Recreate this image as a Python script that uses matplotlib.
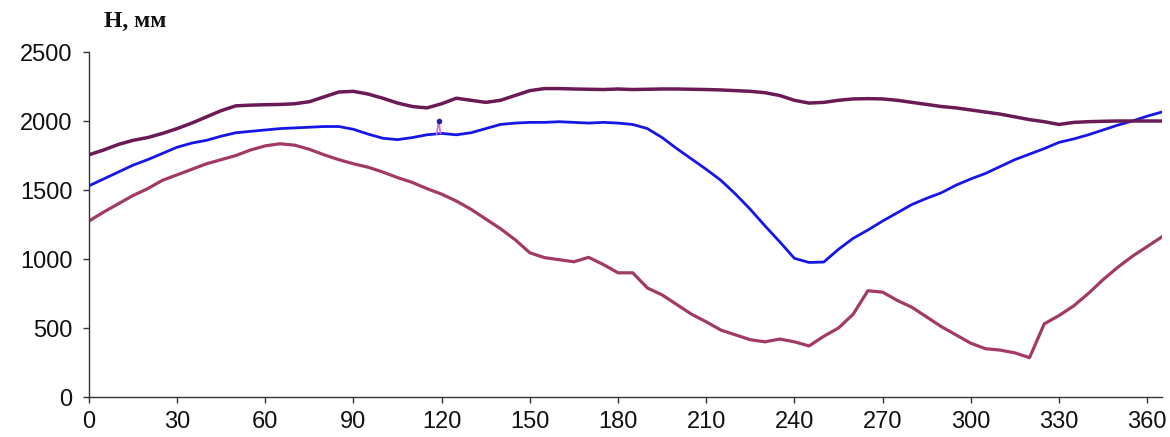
import matplotlib
matplotlib.use("Agg")
import matplotlib.pyplot as plt

# Angular position, degrees (sampled every 5 degrees)
angle = list(range(0, 366, 5))

# Level H, mm — upper profile
h_upper = [1755, 1790, 1830, 1860, 1880, 1910, 1945, 1985, 2030, 2075,
           2110, 2115, 2118, 2120, 2125, 2140, 2175, 2210, 2215, 2195,
           2165, 2130, 2105, 2095, 2125, 2165, 2150, 2135, 2150, 2185,
           2220, 2235, 2235, 2232, 2230, 2228, 2232, 2228, 2230, 2232,
           2232, 2230, 2228, 2225, 2220, 2215, 2205, 2185, 2150, 2130,
           2135, 2150, 2160, 2162, 2160, 2150, 2135, 2120, 2105, 2095,
           2080, 2065, 2050, 2030, 2010, 1995, 1975, 1990, 1995, 1998,
           2000, 2000, 2000, 2000]

# Level H, mm — middle profile
h_middle = [1530, 1580, 1630, 1680, 1720, 1765, 1810, 1840, 1860, 1890,
            1915, 1925, 1935, 1945, 1950, 1955, 1960, 1960, 1940, 1905,
            1875, 1865, 1880, 1900, 1910, 1900, 1915, 1945, 1975, 1985,
            1990, 1990, 1995, 1990, 1985, 1990, 1985, 1975, 1945, 1880,
            1800, 1725, 1650, 1570, 1470, 1360, 1240, 1125, 1005, 975,
            978, 1070, 1150, 1210, 1275, 1335, 1395, 1440, 1480, 1535,
            1580, 1620, 1670, 1720, 1760, 1800, 1845, 1870, 1900, 1935,
            1970, 2000, 2035, 2065]

# Level H, mm — lower profile
h_lower = [1275, 1340, 1400, 1460, 1510, 1570, 1610, 1650, 1690, 1720,
           1750, 1790, 1820, 1835, 1825, 1795, 1755, 1720, 1690, 1665,
           1630, 1590, 1555, 1510, 1470, 1420, 1360, 1290, 1220, 1140,
           1045, 1010, 995, 980, 1012, 960, 900, 900, 790, 740,
           670, 600, 545, 485, 450, 415, 400, 420, 400, 370,
           440, 500, 600, 770, 760, 700, 650, 580, 510, 450,
           390, 350, 340, 320, 285, 530, 590, 660, 750, 850,
           940, 1020, 1090, 1160]

# Short spike on the middle profile near 119 degrees
spike_angle = [118.3, 119.0, 119.6]
spike_h = [1905, 2000, 1910]

x_ticks = list(range(0, 361, 30))
y_ticks = list(range(0, 2501, 500))

fig = plt.figure(figsize=(11.70, 4.37), dpi=100)
ax = fig.add_axes([0.076, 0.0915, 0.917, 0.7895])

ax.plot(angle, h_lower, color="#a23a66", lw=2.3, solid_joinstyle="round")
ax.plot(angle, h_middle, color="#1616e6", lw=2.0, solid_joinstyle="round")
ax.plot(angle, h_upper, color="#6a1b55", lw=2.5, solid_joinstyle="round")
ax.plot(spike_angle, spike_h, color="#d070e0", lw=1.2)
ax.plot([spike_angle[1]], [spike_h[1]], "o", color="#2020a0", ms=3)

ax.set_xlim(0, 365)
ax.set_ylim(0, 2500)
ax.set_xticks(x_ticks)
ax.set_yticks(y_ticks)

for side in ("top", "right"):
    ax.spines[side].set_visible(False)
for side in ("left", "bottom"):
    ax.spines[side].set_color("#333333")
    ax.spines[side].set_linewidth(1.0)

ax.tick_params(axis="both", direction="out", length=4, width=1.0,
               color="#333333", labelsize=17, labelcolor="#111111")
ax.tick_params(axis="x", pad=6)
ax.tick_params(axis="y", pad=8)
for lab in ax.get_xticklabels() + ax.get_yticklabels():
    lab.set_fontfamily("Liberation Sans")

fig.text(0.089, 0.952, "H, мм", family="Liberation Serif", weight="bold",
         fontsize=17, ha="left", va="center", color="#111111")

fig.savefig("out.png", dpi=100)
